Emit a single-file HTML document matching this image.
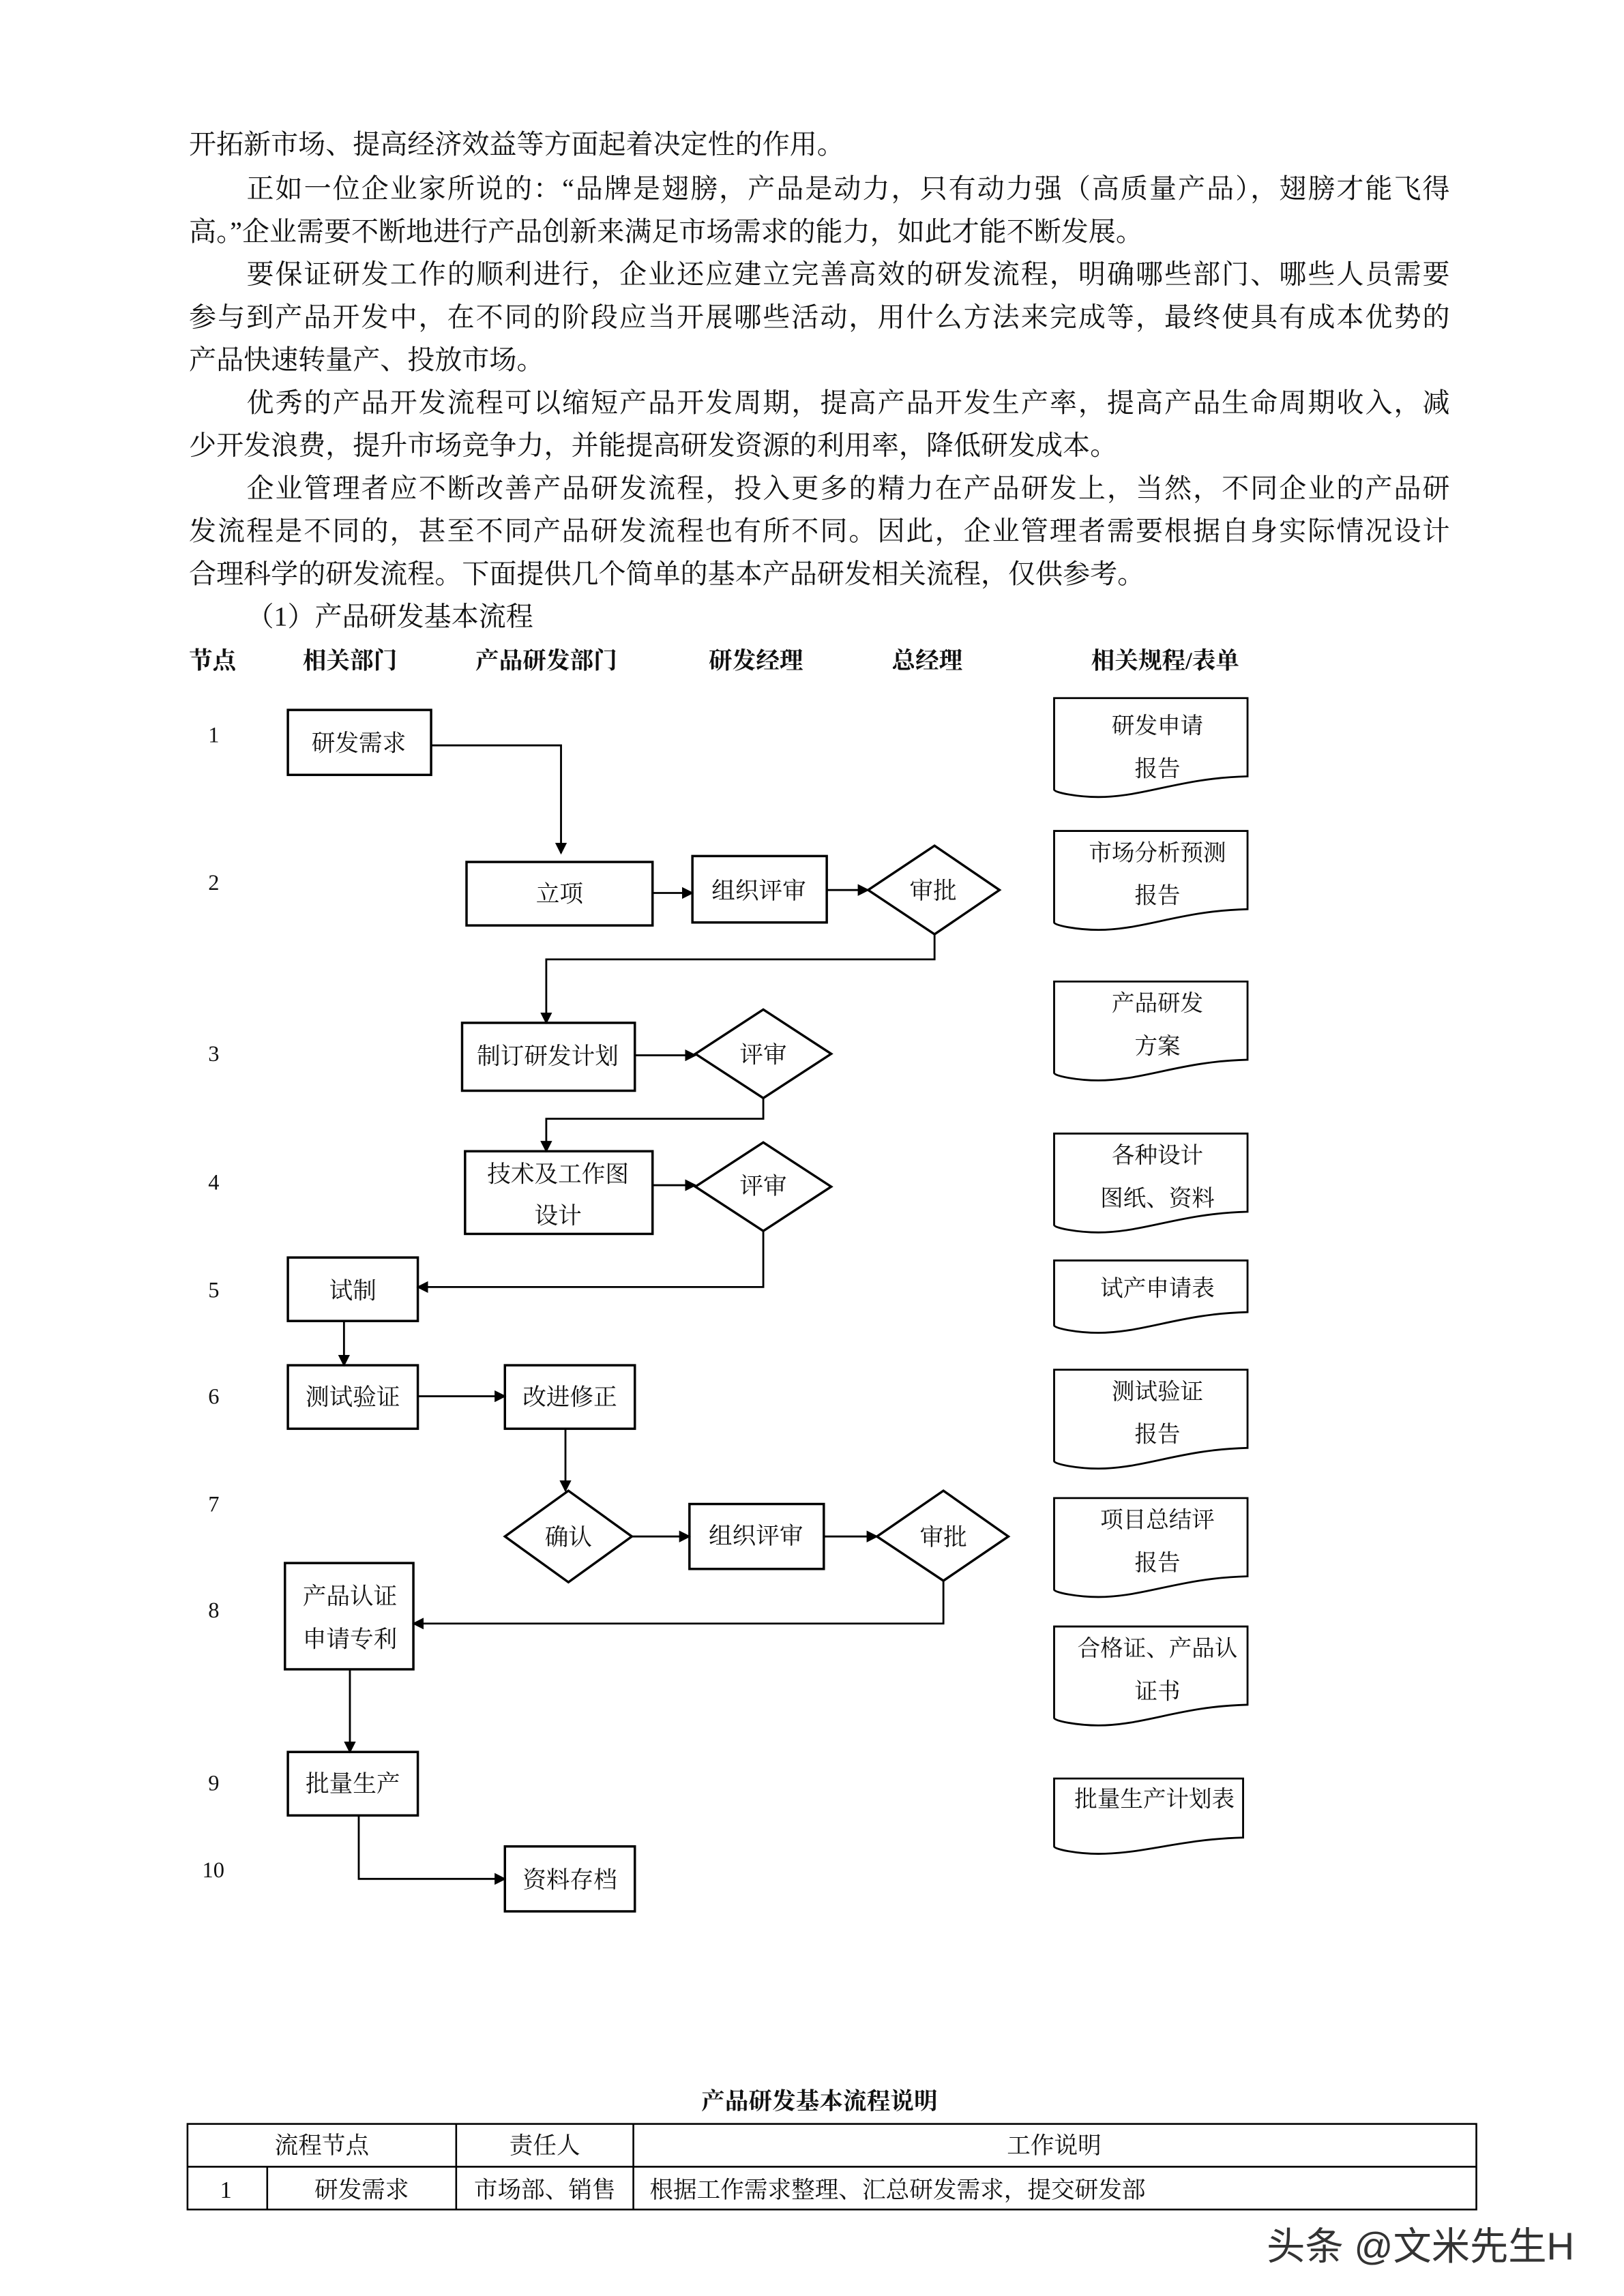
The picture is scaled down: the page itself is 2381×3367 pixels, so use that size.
<!DOCTYPE html>
<html><head><meta charset="utf-8"><style>
html,body{margin:0;padding:0;background:#fff;}
svg{display:block;}
text{font-family:"Liberation Serif","Noto Serif CJK SC",serif;fill:#111;}
.b{font-weight:bold;}
.s{fill:none;stroke:#000;stroke-width:1.6;}
.d{fill:none;stroke:#000;stroke-width:1.3;}
</style></head><body>
<svg width="2381" height="3367" viewBox="0 0 1100 1555.6" preserveAspectRatio="none" xmlns="http://www.w3.org/2000/svg">
<defs><marker id="a" markerWidth="8" markerHeight="8" refX="7" refY="4" orient="auto" markerUnits="userSpaceOnUse"><path d="M0,0 L8,4 L0,8 Z" fill="#000"/></marker></defs>
<g font-size="18.5">
<text x="128" y="104">开拓新市场、提高经济效益等方面起着决定性的作用。</text>
<text x="167" y="134" textLength="815" lengthAdjust="spacing">正如一位企业家所说的：“品牌是翅膀，产品是动力，只有动力强（高质量产品），翅膀才能飞得</text>
<text x="128" y="163">高。”企业需要不断地进行产品创新来满足市场需求的能力，如此才能不断发展。</text>
<text x="167" y="192" textLength="815" lengthAdjust="spacing">要保证研发工作的顺利进行，企业还应建立完善高效的研发流程，明确哪些部门、哪些人员需要</text>
<text x="128" y="221" textLength="854" lengthAdjust="spacing">参与到产品开发中，在不同的阶段应当开展哪些活动，用什么方法来完成等，最终使具有成本优势的</text>
<text x="128" y="250">产品快速转量产、投放市场。</text>
<text x="167" y="279" textLength="815" lengthAdjust="spacing">优秀的产品开发流程可以缩短产品开发周期，提高产品开发生产率，提高产品生命周期收入，减</text>
<text x="128" y="308">少开发浪费，提升市场竞争力，并能提高研发资源的利用率，降低研发成本。</text>
<text x="167" y="337" textLength="815" lengthAdjust="spacing">企业管理者应不断改善产品研发流程，投入更多的精力在产品研发上，当然，不同企业的产品研</text>
<text x="128" y="366" textLength="854" lengthAdjust="spacing">发流程是不同的，甚至不同产品研发流程也有所不同。因此，企业管理者需要根据自身实际情况设计</text>
<text x="128" y="395">合理科学的研发流程。下面提供几个简单的基本产品研发相关流程，仅供参考。</text>
<text x="167" y="424">（1）产品研发基本流程</text>
</g>
<g font-size="16" class="b">
<text x="128" y="453">节点</text><text x="205" y="453">相关部门</text><text x="322" y="453">产品研发部门</text>
<text x="480" y="453">研发经理</text><text x="604" y="453">总经理</text><text x="739" y="453">相关规程/表单</text>
</g>
<g font-size="15">
<text x="141" y="503">1</text><text x="141" y="603">2</text><text x="141" y="719">3</text><text x="141" y="806">4</text>
<text x="141" y="879">5</text><text x="141" y="951">6</text><text x="141" y="1024">7</text><text x="141" y="1096">8</text>
<text x="141" y="1213">9</text><text x="137" y="1272">10</text>
</g>
<g class="s">
<rect x="195" y="481" width="97" height="44"/>
<rect x="316" y="584" width="126" height="43"/>
<rect x="469" y="580" width="91" height="45"/>
<polygon points="588,603 633,573 677,603 633,633"/>
<rect x="313" y="693" width="117" height="46"/>
<polygon points="471,714 517,684 563,714 517,744"/>
<rect x="315" y="780" width="127" height="56"/>
<polygon points="471,804 517,774 563,804 517,834"/>
<rect x="195" y="852" width="88" height="43"/>
<rect x="195" y="925" width="88" height="43"/>
<rect x="342" y="925" width="88" height="43"/>
<polygon points="342,1041 385,1010 428,1041 385,1072"/>
<rect x="467" y="1019" width="91" height="44"/>
<polygon points="594,1041 639,1010 683,1041 639,1071"/>
<rect x="193" y="1059" width="87" height="72"/>
<rect x="195" y="1187" width="88" height="43"/>
<rect x="342" y="1251" width="88" height="44"/>
</g>
<g class="d">
<polyline points="292,505 380,505 380,578" marker-end="url(#a)"/>
<line x1="442" y1="605" x2="469" y2="605" marker-end="url(#a)"/>
<line x1="560" y1="603" x2="588" y2="603" marker-end="url(#a)"/>
<polyline points="633,633 633,650 370,650 370,693" marker-end="url(#a)"/>
<line x1="430" y1="715" x2="471" y2="715" marker-end="url(#a)"/>
<polyline points="517,744 517,758 370,758 370,780" marker-end="url(#a)"/>
<line x1="442" y1="803" x2="471" y2="803" marker-end="url(#a)"/>
<polyline points="517,834 517,872 283,872" marker-end="url(#a)"/>
<line x1="233" y1="895" x2="233" y2="925" marker-end="url(#a)"/>
<line x1="283" y1="946" x2="342" y2="946" marker-end="url(#a)"/>
<line x1="383" y1="968" x2="383" y2="1010" marker-end="url(#a)"/>
<line x1="428" y1="1041" x2="467" y2="1041" marker-end="url(#a)"/>
<line x1="558" y1="1041" x2="594" y2="1041" marker-end="url(#a)"/>
<polyline points="639,1071 639,1100 280,1100" marker-end="url(#a)"/>
<line x1="237" y1="1131" x2="237" y2="1187" marker-end="url(#a)"/>
<polyline points="243,1230 243,1273 342,1273" marker-end="url(#a)"/>
</g>
<g font-size="16" text-anchor="middle">
<text x="243" y="509">研发需求</text><text x="379" y="611">立项</text><text x="514" y="609">组织评审</text>
<text x="632" y="609">审批</text><text x="371" y="721">制订研发计划</text><text x="517" y="720">评审</text>
<text x="378" y="801">技术及工作图</text><text x="378" y="829">设计</text><text x="517" y="809">评审</text>
<text x="239" y="880">试制</text><text x="239" y="952">测试验证</text><text x="386" y="952">改进修正</text>
<text x="385" y="1047">确认</text><text x="512" y="1046">组织评审</text><text x="639" y="1047">审批</text>
<text x="237" y="1087">产品认证</text><text x="237" y="1116">申请专利</text><text x="239" y="1214">批量生产</text>
<text x="386" y="1279">资料存档</text>
</g>
<g>
<path class="d" d="M714,473 H845 V526 C800,527 775,540 744,540 C730,540 714,537 714,535 Z" transform="translate(0,0)"/>
<path class="d" d="M714,563 H845 V616 C800,617 775,630 744,630 C730,630 714,627 714,625 Z"/>
<path class="d" d="M714,665 H845 V718 C800,719 775,732 744,732 C730,732 714,729 714,727 Z"/>
<path class="d" d="M714,768 H845 V821 C800,822 775,835 744,835 C730,835 714,832 714,830 Z"/>
<path class="d" d="M714,854 H845 V889 C800,890 775,903 744,903 C730,903 714,900 714,898 Z"/>
<path class="d" d="M714,928 H845 V981 C800,982 775,995 744,995 C730,995 714,992 714,990 Z"/>
<path class="d" d="M714,1015 H845 V1068 C800,1069 775,1082 744,1082 C730,1082 714,1079 714,1077 Z"/>
<path class="d" d="M714,1102 H845 V1155 C800,1156 775,1169 744,1169 C730,1169 714,1166 714,1164 Z"/>
<path class="d" d="M714,1205 H842 V1245 C800,1246 775,1256 744,1256 C730,1256 714,1253 714,1251 Z"/>
</g>
<g font-size="15.5" text-anchor="middle" fill="#222">
<text x="784" y="497">研发申请</text><text x="784" y="526">报告</text>
<text x="784" y="583">市场分析预测</text><text x="784" y="612">报告</text>
<text x="784" y="685">产品研发</text><text x="784" y="714">方案</text>
<text x="784" y="788">各种设计</text><text x="784" y="817">图纸、资料</text>
<text x="784" y="878">试产申请表</text>
<text x="784" y="948">测试验证</text><text x="784" y="977">报告</text>
<text x="784" y="1035">项目总结评</text><text x="784" y="1064">报告</text>
<text x="784" y="1122">合格证、产品认</text><text x="784" y="1151">证书</text>
<text x="782" y="1224">批量生产计划表</text>
</g>
<text x="555" y="1429" font-size="16" class="b" text-anchor="middle">产品研发基本流程说明</text>
<g stroke="#000" stroke-width="1.2" fill="none">
<rect x="127" y="1439" width="873" height="58"/>
<line x1="127" y1="1468" x2="1000" y2="1468"/>
<line x1="181" y1="1468" x2="181" y2="1497"/>
<line x1="309" y1="1439" x2="309" y2="1497"/>
<line x1="429" y1="1439" x2="429" y2="1497"/>
</g>
<g font-size="16" text-anchor="middle">
<text x="218" y="1459">流程节点</text><text x="369" y="1459">责任人</text><text x="714" y="1459">工作说明</text>
<text x="153" y="1489">1</text><text x="245" y="1489">研发需求</text><text x="369" y="1489">市场部、销售</text>
</g>
<text x="440" y="1489" font-size="16">根据工作需求整理、汇总研发需求，提交研发部</text>
<text x="858" y="1531" font-size="26" style="font-family:'Liberation Sans','Noto Sans CJK SC',sans-serif;fill:#333;">头条 @文米先生H</text>
</svg>
</body></html>
